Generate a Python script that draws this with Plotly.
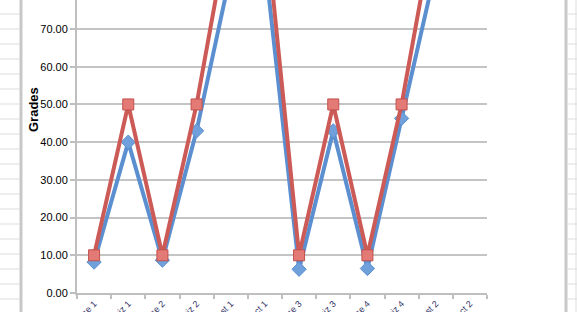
import plotly.graph_objects as go

categories = ["Exercise 1", "Quiz 1", "Exercise 2", "Quiz 2", "Test 1", "Project 1",
              "Exercise 3", "Quiz 3", "Exercise 4", "Quiz 4", "Test 2", "Project 2"]
student = [8.2, 40, 8.7, 43, 85, 88, 6.3, 43, 6.5, 46.3, 86, 88]
possible = [10, 50, 10, 50, 100, 100, 10, 50, 10, 50, 100, 100]

blue = "#5B8FCF"
red = "#CC5B57"

fig = go.Figure()
fig.add_trace(go.Scatter(
    x=categories, y=student, mode="lines+markers", name="Score",
    line=dict(color=blue, width=4),
    marker=dict(symbol="diamond", size=11, color="#6FA0DC", line=dict(color=blue, width=1)),
    cliponaxis=True,
))
fig.add_trace(go.Scatter(
    x=categories, y=possible, mode="lines+markers", name="Possible",
    line=dict(color=red, width=4),
    marker=dict(symbol="square", size=11, color="#E47A76", line=dict(color="#C0504D", width=1)),
    cliponaxis=True,
))

shapes = []
# spreadsheet background decoration (left strip and right strip)
shapes.append(dict(type="line", xref="paper", yref="paper", x0=-56/410, x1=-56/410, y0=-19/293, y1=1,
                   line=dict(color="#C8C8C8", width=3), layer="below"))
shapes.append(dict(type="line", xref="paper", yref="paper", x0=489/410, x1=489/410, y0=-19/293, y1=1,
                   line=dict(color="#C8C8C8", width=3), layer="below"))
shapes.append(dict(type="line", xref="paper", yref="paper", x0=499/410, x1=499/410, y0=-19/293, y1=1,
                   line=dict(color="#DDDDDD", width=1), layer="below"))
for k in range(21):
    yy = 14 + 15 * k
    yp = (293 - yy) / 293
    shapes.append(dict(type="line", xref="paper", yref="paper", x0=-77/410, x1=-57/410, y0=yp, y1=yp,
                       line=dict(color="#DDDDDD", width=1), layer="below"))
    shapes.append(dict(type="line", xref="paper", yref="paper", x0=490/410, x1=500/410, y0=yp, y1=yp,
                       line=dict(color="#DDDDDD", width=1), layer="below"))

fig.update_layout(
    width=577, height=312,
    margin=dict(l=77, r=90, t=0, b=19),
    paper_bgcolor="white", plot_bgcolor="white",
    showlegend=False,
    font=dict(family="Liberation Sans, Arial, sans-serif", size=11, color="black"),
    shapes=shapes,
    annotations=[dict(text="<b>Grades</b>", xref="paper", yref="paper",
                      x=-44/410, y=(293 - 110) / 293, showarrow=False, textangle=-90,
                      font=dict(size=13, color="black"), xanchor="center", yanchor="middle")],
    xaxis=dict(
        type="category", tickson="boundaries", tickangle=-45, automargin=False,
        showgrid=False, showline=True, linecolor="#BFBFBF", linewidth=2,
        ticks="outside", ticklen=4, tickcolor="#BFBFBF", tickwidth=2,
        tickfont=dict(size=9, color="#333366"), range=[-0.5, 11.5],
    ),
    yaxis=dict(
        range=[0, 77.7], dtick=10, tickformat=".2f", automargin=False,
        showgrid=True, gridcolor="#C4C4C4", gridwidth=2,
        showline=True, linecolor="#BFBFBF", linewidth=2,
        ticks="outside", ticklen=5, tickcolor="#BFBFBF", tickwidth=2,
        zeroline=False,
    ),
)

fig.write_html("out.html")
